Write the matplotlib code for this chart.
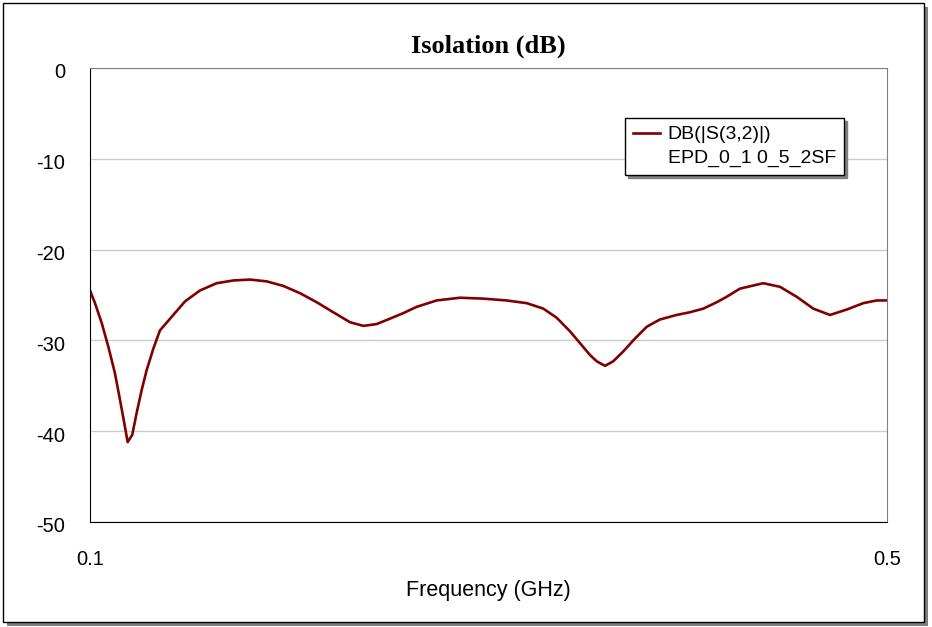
import matplotlib as mpl

mpl.use("Agg")
import matplotlib.pyplot as plt
import matplotlib.transforms as mtransforms
from matplotlib.lines import Line2D
from matplotlib.patches import Rectangle

# Isolation curve (GHz, dB)
freq_ghz = [
    0.1000, 0.1025, 0.1059, 0.1092, 0.1125, 0.1151, 0.1172, 0.1189, 0.1212,
    0.1234, 0.1259, 0.1284, 0.1318, 0.1351, 0.1410, 0.1477, 0.1552, 0.1636,
    0.1719, 0.1803, 0.1887, 0.1970, 0.2054, 0.2138, 0.2221, 0.2305, 0.2372,
    0.2439, 0.2506, 0.2572, 0.2640, 0.2740, 0.2857, 0.2974, 0.3091, 0.3192,
    0.3275, 0.3342, 0.3409, 0.3459, 0.3509, 0.3543, 0.3585, 0.3626, 0.3677,
    0.3735, 0.3794, 0.3860, 0.3944, 0.4011, 0.4078, 0.4145, 0.4195, 0.4262,
    0.4379, 0.4463, 0.4547, 0.4630, 0.4714, 0.4798, 0.4881, 0.4948, 0.5000,
]
isolation_db = [
    -24.5, -25.9, -28.1, -30.7, -33.6, -36.6, -39.1, -41.2, -40.4,
    -38.0, -35.5, -33.3, -30.9, -28.9, -27.4, -25.7, -24.5, -23.7,
    -23.4, -23.3, -23.5, -24.0, -24.8, -25.8, -26.9, -28.0, -28.4,
    -28.2, -27.6, -27.0, -26.3, -25.6, -25.3, -25.4, -25.6, -25.9,
    -26.5, -27.5, -29.0, -30.3, -31.6, -32.3, -32.8, -32.3, -31.2,
    -29.8, -28.5, -27.7, -27.2, -26.9, -26.5, -25.8, -25.2, -24.3,
    -23.7, -24.1, -25.2, -26.5, -27.2, -26.6, -25.9, -25.6, -25.6,
]
x_ticks = [0.1, 0.5]
x_tick_labels = ["0.1", "0.5"]
y_ticks = [0, -10, -20, -30, -40, -50]

plt.rcParams["font.family"] = ["Liberation Sans", "DejaVu Sans"]
plt.rcParams["axes.unicode_minus"] = False

fig = plt.figure(figsize=(9.32, 6.27), dpi=100)
ax = fig.add_axes([90 / 932, 1 - 522 / 627, 797 / 932, 454 / 627])
ax.set_zorder(5)

# outer frame with drop shadow
fig.patches.append(Rectangle((7 / 932, 1 - 626 / 627), 921 / 932, 619 / 627,
                             transform=fig.transFigure, facecolor="#808080",
                             edgecolor="none", zorder=0))
fig.patches.append(Rectangle((3 / 932, 1 - 622 / 627), 921 / 932, 619 / 627,
                             transform=fig.transFigure, facecolor="white",
                             edgecolor="black", linewidth=1, zorder=1))

ax.plot(freq_ghz, isolation_db, color="#800000", linewidth=1.9)

ax.set_xlim(0.1, 0.5)
ax.set_ylim(-50, 0)
ax.set_xticks(x_ticks)
ax.set_xticklabels(x_tick_labels)
ax.set_yticks(y_ticks)
ax.tick_params(length=0, labelsize=14.5)
ax.tick_params(axis="x", pad=20)
ax.tick_params(axis="y", pad=18)
ax.grid(axis="y", color="#cccccc", linewidth=1)

# y labels sit a little below their gridlines in the reference
shift = mtransforms.ScaledTranslation(0, -3 / 100, fig.dpi_scale_trans)
for lbl in ax.get_yticklabels():
    lbl.set_transform(lbl.get_transform() + shift)

for side in ("top", "right"):
    ax.spines[side].set_color("#808080")
for side in ("left", "bottom"):
    ax.spines[side].set_color("black")

ax.set_title("Isolation (dB)", family="Liberation Serif", fontweight="bold",
             fontsize=19, pad=11)
ax.set_xlabel("Frequency (GHz)", fontsize=15.5, labelpad=8)

handles = [Line2D([], [], color="#800000", linewidth=1.9),
           Line2D([], [], color="none")]
leg = ax.legend(handles, ["DB(|S(3,2)|)", "EPD_0_1 0_5_2SF"],
                loc="upper left", bbox_to_anchor=(535 / 797, 1 - 50 / 454),
                fontsize=14, frameon=True, fancybox=False,
                shadow={"color": "#808080", "alpha": 1},
                handlelength=1.4, handletextpad=0.4, labelspacing=0.32,
                borderpad=0.4, borderaxespad=0)
leg.get_frame().set_edgecolor("black")
leg.get_frame().set_linewidth(1)

fig.savefig("out.png", dpi=100)
